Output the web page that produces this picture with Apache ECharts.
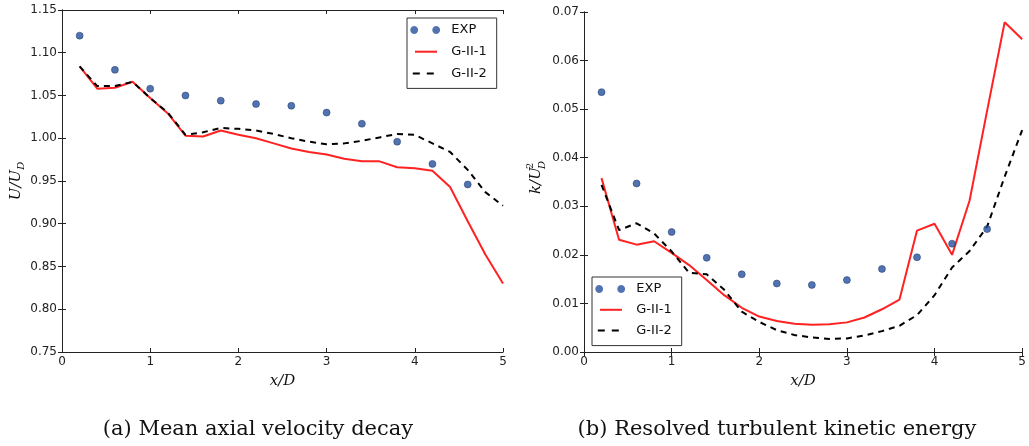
<!DOCTYPE html>
<html>
<head>
<meta charset="utf-8">
<script src="https://cdn.jsdelivr.net/npm/echarts@6/dist/echarts.min.js"></script>
<style>
html,body{margin:0;padding:0;background:#fff;}
#chart{width:1029px;height:446px;}
</style>
</head>
<body>
<div id="chart"></div>
<script>
// ---------- data ----------
var expX = [0.2, 0.6, 1.0, 1.4, 1.8, 2.2, 2.6, 3.0, 3.4, 3.8, 4.2, 4.6];
var simX = [0.2, 0.4, 0.6, 0.8, 1.0, 1.2, 1.4, 1.6, 1.8, 2.0, 2.2, 2.4, 2.6, 2.8, 3.0, 3.2, 3.4, 3.6, 3.8, 4.0, 4.2, 4.4, 4.6, 4.8, 5.0];

var velExp = [1.120, 1.080, 1.058, 1.050, 1.044, 1.040, 1.038, 1.030, 1.017, 0.996, 0.970, 0.946];
var velG1  = [1.084, 1.058, 1.059, 1.066, 1.047, 1.029, 1.003, 1.002, 1.009, 1.004, 1.000, 0.994, 0.988, 0.984, 0.981, 0.976, 0.973, 0.973, 0.966, 0.965, 0.962, 0.943, 0.903, 0.864, 0.830];
var velG2  = [1.084, 1.061, 1.061, 1.066, 1.047, 1.030, 1.004, 1.007, 1.012, 1.011, 1.009, 1.005, 1.000, 0.996, 0.993, 0.994, 0.997, 1.001, 1.005, 1.004, 0.994, 0.984, 0.963, 0.937, 0.921];

var tkeExp = [0.0535, 0.0347, 0.0247, 0.0194, 0.0160, 0.0141, 0.0138, 0.0148, 0.0171, 0.0195, 0.0223, 0.0253];
var tkeG1  = [0.0358, 0.0231, 0.0221, 0.0228, 0.0204, 0.0179, 0.0148, 0.0117, 0.0091, 0.0073, 0.0064, 0.0058, 0.0056, 0.0057, 0.0061, 0.0071, 0.0088, 0.0108, 0.0250, 0.0264, 0.0200, 0.0312, 0.0497, 0.0679, 0.0644];
var tkeG2  = [0.0344, 0.0251, 0.0265, 0.0244, 0.0207, 0.0163, 0.0160, 0.0128, 0.0083, 0.0062, 0.0045, 0.0035, 0.0030, 0.0027, 0.0028, 0.0034, 0.0043, 0.0054, 0.0076, 0.0117, 0.0174, 0.0208, 0.0258, 0.0361, 0.0457];

var xTicks   = ['0', '1', '2', '3', '4', '5'];
var velTicks = ['0.75', '0.80', '0.85', '0.90', '0.95', '1.00', '1.05', '1.10', '1.15'];
var tkeTicks = ['0.00', '0.01', '0.02', '0.03', '0.04', '0.05', '0.06', '0.07'];

var seriesNames = ['EXP', 'G-II-1', 'G-II-2'];
var captions = ['(a) Mean axial velocity decay', '(b) Resolved turbulent kinetic energy'];

// ---------- helpers ----------
function pairs(xs, ys) { return xs.map(function (x, i) { return [x, ys[i]]; }); }

var RED = '#ff2222', BLACK = '#000000', BLUE = '#26509c';
var FRAME = '#222222';
var tickFont = 'DejaVu Sans';

function xAxisPair(grid) {
  return [
    { type: 'value', gridIndex: grid, position: 'bottom', min: 0, max: 5, interval: 1,
      axisLine: { show: true, lineStyle: { color: FRAME, width: 1 } },
      axisTick: { show: true, inside: true, length: 4, lineStyle: { color: FRAME } },
      axisLabel: { show: true, margin: 4, color: '#222', fontSize: 12, fontFamily: tickFont,
                   formatter: function (v) { return xTicks[Math.round(v)]; } },
      splitLine: { show: false },
      name: '{i|x/D}', nameLocation: 'middle', nameGap: 22,
      nameTextStyle: { rich: { i: { fontFamily: 'DejaVu Serif', fontStyle: 'italic', fontSize: 15, color: '#111' } } } },
    { type: 'value', gridIndex: grid, position: 'top', min: 0, max: 5, interval: 1,
      axisLine: { show: true, lineStyle: { color: FRAME, width: 1 } },
      axisTick: { show: true, inside: true, length: 4, lineStyle: { color: FRAME } },
      axisLabel: { show: false }, splitLine: { show: false } }
  ];
}

function yAxisPair(grid, min, max, step, labels, nameRich, gap) {
  return [
    { type: 'value', gridIndex: grid, position: 'left', min: min, max: max, interval: step,
      axisLine: { show: true, lineStyle: { color: FRAME, width: 1 } },
      axisTick: { show: true, inside: true, length: 4, lineStyle: { color: FRAME } },
      axisLabel: { show: true, margin: 5, color: '#222', fontSize: 12, fontFamily: tickFont,
                   formatter: function (v) { return labels[Math.round((v - min) / step)]; } },
      splitLine: { show: false },
      name: nameRich, nameLocation: 'middle', nameGap: gap, nameRotate: 90,
      nameTextStyle: { rich: {
        i: { fontFamily: 'DejaVu Serif', fontStyle: 'italic', fontSize: 15, color: '#111' },
        s: { fontFamily: 'DejaVu Serif', fontStyle: 'italic', fontSize: 10, color: '#111', padding: [9, 0, 0, 0] }
      } } },
    { type: 'value', gridIndex: grid, position: 'right', min: min, max: max, interval: step,
      axisLine: { show: true, lineStyle: { color: FRAME, width: 1 } },
      axisTick: { show: true, inside: true, length: 4, lineStyle: { color: FRAME } },
      axisLabel: { show: false }, splitLine: { show: false } }
  ];
}

function makeSeries(xi, yi, e, g1, g2) {
  return [
    { name: seriesNames[0], type: 'scatter', xAxisIndex: xi, yAxisIndex: yi, data: pairs(expX, e),
      symbol: 'circle', symbolSize: 7, z: 3,
      itemStyle: { color: BLUE, borderColor: '#1a3366', borderWidth: 0.6 } },
    { name: seriesNames[1], type: 'line', xAxisIndex: xi, yAxisIndex: yi, data: pairs(simX, g1),
      showSymbol: false, symbol: 'none', z: 2, color: RED,
      lineStyle: { color: RED, width: 2 } },
    { name: seriesNames[2], type: 'line', xAxisIndex: xi, yAxisIndex: yi, data: pairs(simX, g2),
      showSymbol: false, symbol: 'none', z: 2, color: BLACK,
      lineStyle: { color: BLACK, width: 2, type: [6, 5] } }
  ];
}

// legend icons (36x16 box; corner moveTo points fix the box)
function polyCircle(cx, cy, r) {
  var s = '';
  for (var k = 0; k < 20; k++) {
    var a = k / 20 * Math.PI * 2;
    s += (k === 0 ? 'M' : 'L') + (cx + r * Math.cos(a)).toFixed(2) + ',' + (cy + r * Math.sin(a)).toFixed(2);
  }
  return s + 'Z';
}
var dotIcon  = 'path://M0,0M36,16' + polyCircle(3.9, 8, 3.9) + polyCircle(25.9, 8, 3.9);
var lineIcon = 'path://M0,0M36,16M4.7,7H26.7V9H4.7Z';
var dashIcon = 'path://M0,0M36,16M2.5,7H9.5V9H2.5ZM16.5,7H23.5V9H16.5Z';

function makeLegend(left, top, gap) {
  return {
    show: true, orient: 'vertical', left: left, top: top,
    padding: [4, 10, 7, 3.3], itemGap: gap, itemWidth: 36, itemHeight: 16,
    backgroundColor: '#fff', borderColor: '#333', borderWidth: 1, borderRadius: 0,
    selectedMode: false,
    itemStyle: { borderWidth: 0 },
    textStyle: { fontFamily: 'DejaVu Sans', fontSize: 13, color: '#111' },
    data: [
      { name: seriesNames[0], icon: dotIcon, itemStyle: { color: BLUE, borderWidth: 0 } },
      { name: seriesNames[1], icon: lineIcon },
      { name: seriesNames[2], icon: dashIcon }
    ]
  };
}

var xs = xAxisPair(0).concat(xAxisPair(1));
var ys = yAxisPair(0, 0.75, 1.15, 0.05, velTicks, '{i|U/U}{s|D}', 36)
  .concat(yAxisPair(1, 0, 0.07, 0.01, tkeTicks, '', 34));

var labelFont = 'italic 15px "DejaVu Serif"';
var smallFont = 'italic 10px "DejaVu Serif"';

var option = {
  animation: false,
  backgroundColor: '#ffffff',
  grid: [
    { left: 62, top: 10, width: 441, height: 342, containLabel: false },
    { left: 584, top: 12, width: 440, height: 340, containLabel: false }
  ],
  xAxis: xs,
  yAxis: ys,
  legend: [makeLegend(407, 18, 5.7), makeLegend(592, 277, 4.8)],
  series: makeSeries(0, 0, velExp, velG1, velG2).concat(makeSeries(2, 2, tkeExp, tkeG1, tkeG2)),
  graphic: [
    { type: 'text', x: 258, y: 430, z: 10,
      style: { text: captions[0], font: '21px "DejaVu Serif"', fill: '#111',
               textAlign: 'center', textVerticalAlign: 'middle', align: 'center', verticalAlign: 'middle' } },
    { type: 'text', x: 777, y: 430, z: 10,
      style: { text: captions[1], font: '21px "DejaVu Serif"', fill: '#111',
               textAlign: 'center', textVerticalAlign: 'middle', align: 'center', verticalAlign: 'middle' } },
    { type: 'group', x: 544, y: 194, rotation: Math.PI / 2, z: 10,
      children: [
        { type: 'text', x: 0, y: 0,
          style: { text: 'k/U', font: labelFont, fill: '#111', textAlign: 'left', textVerticalAlign: 'bottom', align: 'left', verticalAlign: 'bottom' } },
        { type: 'text', x: 25, y: -9,
          style: { text: '2', font: '10px "DejaVu Serif"', fill: '#111', textAlign: 'left', textVerticalAlign: 'bottom', align: 'left', verticalAlign: 'bottom' } },
        { type: 'text', x: 25, y: 3,
          style: { text: 'D', font: smallFont, fill: '#111', textAlign: 'left', textVerticalAlign: 'bottom', align: 'left', verticalAlign: 'bottom' } }
      ] }
  ]
};

var chart = echarts.init(document.getElementById('chart'), null, { renderer: 'canvas' });
chart.setOption(option);
</script>
</body>
</html>
